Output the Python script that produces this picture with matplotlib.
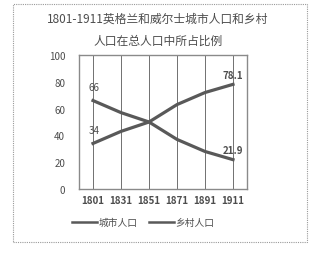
import matplotlib.pyplot as plt
from matplotlib.patches import Rectangle

plt.rcParams['font.family'] = ['Noto Sans CJK SC', 'DejaVu Sans']

years = ['1801', '1831', '1851', '1871', '1891', '1911']
urban = [34, 43, 50, 63, 72, 78.1]
rural = [66, 57, 50, 37, 28, 21.9]
title = '1801-1911英格兰和威尔士城市人口和乡村\n人口在总人口中所占比例'
names = ['城市人口', '乡村人口']

txt = '#4d4d4d'
line_c = '#595959'

fig = plt.figure(figsize=(3.18, 2.55), dpi=100)
fig.patch.set_facecolor('white')
# outer dashed frame
fig.patches.append(Rectangle((13 / 318, 1 - 243 / 255), 294 / 318, 238 / 255,
                             transform=fig.transFigure, fill=False,
                             edgecolor='#9a9a9a', linewidth=0.8, linestyle=(0, (1, 1))))

ax = fig.add_axes([79 / 318, 1 - 190 / 255, 168 / 318, 134 / 255])
x = list(range(len(years)))
ax.plot(x, urban, color=line_c, linewidth=2.3, label=names[0])
ax.plot(x, rural, color=line_c, linewidth=2.3, label=names[1])

for xi in x:
    ax.axvline(xi, color='#707070', linewidth=0.7, zorder=0)

ax.set_xlim(-0.5, 5.5)
ax.set_ylim(0, 100)
ax.set_yticks([0, 20, 40, 60, 80, 100])
ax.set_xticks(x)
ax.set_xticklabels(years, fontweight='bold')
ax.tick_params(length=0, labelsize=7, colors=txt, pad=4)
ax.tick_params(axis='y', pad=10)
for s in ax.spines.values():
    s.set_color('#8a8a8a')
    s.set_linewidth(1.0)

ax.annotate(f'{rural[0]:g}', (0, rural[0]), xytext=(1, 6), textcoords='offset points',
            ha='center', va='bottom', fontsize=7, color=txt)
ax.annotate(f'{urban[0]:g}', (0, urban[0]), xytext=(1, 6), textcoords='offset points',
            ha='center', va='bottom', fontsize=7, color=txt)
ax.annotate(f'{urban[-1]:g}', (5, urban[-1]), xytext=(0, 3), textcoords='offset points',
            ha='center', va='bottom', fontsize=7, color=txt, fontweight='bold')
ax.annotate(f'{rural[-1]:g}', (5, rural[-1]), xytext=(0, 3), textcoords='offset points',
            ha='center', va='bottom', fontsize=7, color=txt, fontweight='bold')

fig.text(158 / 318, 1 - 30 / 255, title, ha='center', va='center', fontsize=8.5,
         color=txt, linespacing=1.9, fontweight='medium')

leg = fig.legend(loc='center', bbox_to_anchor=(143 / 318, 1 - 223 / 255), ncol=2, frameon=False,
                 fontsize=7, handlelength=2.6, handletextpad=0.1, columnspacing=1.2,
                 labelcolor=txt, prop={'weight': 'medium', 'size': 7})
for h in leg.get_lines():
    h.set_linewidth(1.8)

fig.savefig('out.png', dpi=100, facecolor='white')
